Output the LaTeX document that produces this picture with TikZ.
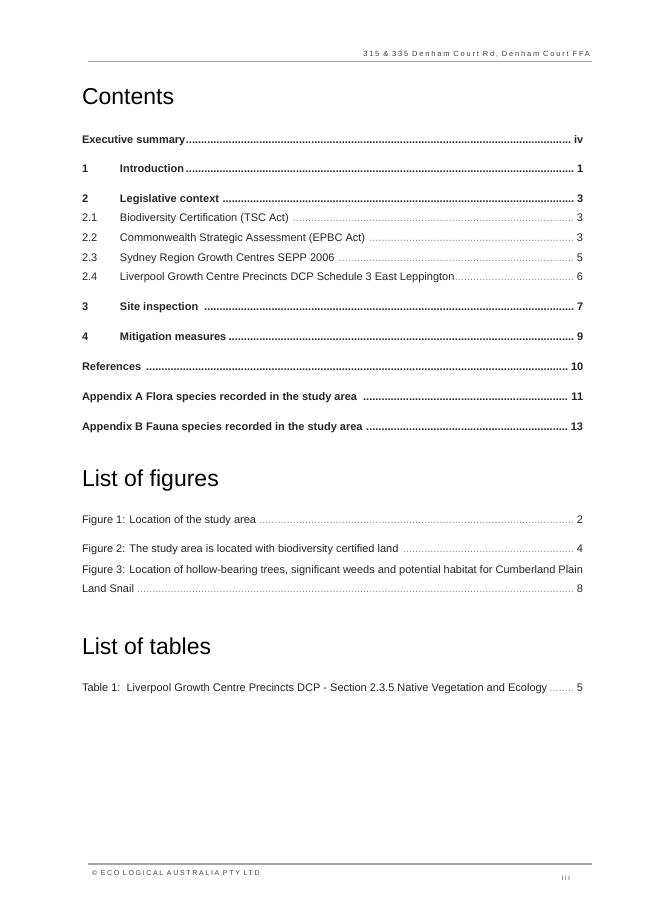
\documentclass[tikz,border=0pt]{standalone}
\usepackage{fontspec}
\setmainfont{Liberation Sans}
\usetikzlibrary{positioning}
\definecolor{rulegray}{HTML}{A6A6A6}
\definecolor{textgray}{HTML}{262626}
\definecolor{dotgray}{HTML}{8C8C8C}
\definecolor{smallgray}{HTML}{404040}
\newcommand\blkdots{\leaders\hbox{.}\hfill}
\newcommand\grydots{\leaders\hbox{{\color{dotgray}.}}\hfill}
\newcommand\tocw{501bp}
\tikzset{
  entry/.style={anchor=base west, inner sep=0pt, outer sep=0pt, font=\fontsize{11bp}{13bp}\selectfont, text=textgray},
  heading/.style={anchor=base west, inner sep=0pt, outer sep=0pt, font=\fontsize{23bp}{27bp}\selectfont, text=black},
  small/.style={inner sep=0pt, outer sep=0pt, font=\fontsize{7.5bp}{9bp}\selectfont\addfontfeature{LetterSpace=24}, text=smallgray},
  smaller/.style={inner sep=0pt, outer sep=0pt, font=\fontsize{7bp}{9bp}\selectfont\addfontfeature{LetterSpace=24}, text=smallgray},
  rulel/.style={draw=rulegray, line width=1.3bp}
}
\begin{document}
\begin{tikzpicture}[x=1bp,y=-1bp]
\useasboundingbox (0,0) rectangle (653,924);
\fill[white] (0,0) rectangle (653,924);
% header
\node[small, anchor=base east] (hdr) at (590,56) {315 \& 335 Denham Court Rd, Denham Court FFA};
\coordinate (hl) at (88,61.5);
\coordinate (hr) at (592,61.5);
\draw[rulel] (hl) -- (hr);
% Contents
\node[heading] (contents) at (82,104.5) {Contents};
\node[entry] (exec) at (82,143.5) {\hbox to \tocw{\bfseries Executive summary\blkdots iv}};
\node[entry] (s1) at (82,172.5) {\hbox to \tocw{\bfseries\hbox to 38bp{1\hfil}Introduction\blkdots 1}};
\node[entry] (s2) at (82,202.5) {\hbox to \tocw{\bfseries\hbox to 38bp{2\hfil}Legislative context \blkdots 3}};
\node[entry] (s21) at (82,221.5) {\hbox to \tocw{\hbox to 38bp{2.1\hfil}Biodiversity Certification (TSC Act) \grydots 3}};
\node[entry] (s22) at (82,241.5) {\hbox to \tocw{\hbox to 38bp{2.2\hfil}Commonwealth Strategic Assessment (EPBC Act) \grydots 3}};
\node[entry] (s23) at (82,261.5) {\hbox to \tocw{\hbox to 38bp{2.3\hfil}Sydney Region Growth Centres SEPP 2006 \grydots 5}};
\node[entry] (s24) at (82,280.5) {\hbox to \tocw{\hbox to 38bp{2.4\hfil}Liverpool Growth Centre Precincts DCP Schedule 3 East Leppington\grydots 6}};
\node[entry] (s3) at (82,310.5) {\hbox to \tocw{\bfseries\hbox to 38bp{3\hfil}Site inspection \blkdots 7}};
\node[entry] (s4) at (82,340.5) {\hbox to \tocw{\bfseries\hbox to 38bp{4\hfil}Mitigation measures\blkdots 9}};
\node[entry] (refs) at (82,370.5) {\hbox to \tocw{\bfseries References \blkdots 10}};
\node[entry] (appa) at (82,400.5) {\hbox to \tocw{\bfseries Appendix A Flora species recorded in the study area \blkdots\ 11}};
\node[entry] (appb) at (82,430.5) {\hbox to \tocw{\bfseries Appendix B Fauna species recorded in the study area \blkdots 13}};
% List of figures
\node[heading] (lof) at (82,486) {List of figures};
\node[entry] (f1) at (82,523.5) {\hbox to \tocw{Figure 1: Location of the study area \grydots 2}};
\node[entry] (f2) at (82,552.5) {\hbox to \tocw{Figure 2: The study area is located with biodiversity certified land \grydots 4}};
\node[entry] (f3a) at (82,573.5) {\hbox to \tocw{Figure 3: Location of hollow-bearing trees, significant weeds and potential habitat for Cumberland Plain}};
\node[entry] (f3b) at (82,592.5) {\hbox to \tocw{Land Snail\grydots 8}};
% List of tables
\node[heading] (lot) at (82,654.5) {List of tables};
\node[entry] (t1) at (82,691.5) {\hbox to \tocw{Table 1:\ \ Liverpool Growth Centre Precincts DCP - Section 2.3.5 Native Vegetation and Ecology\grydots 5}};
% footer
\coordinate (fl) at (88,864);
\coordinate (fr) at (592,864);
\draw[rulel] (fl) -- (fr);
\node[smaller, anchor=base west] (ftr) at (92,875) {© ECO LOGICAL AUSTRALIA PTY LTD};
\node[smaller, anchor=base east] (pg) at (570,880) {iii};
\end{tikzpicture}
\end{document}
